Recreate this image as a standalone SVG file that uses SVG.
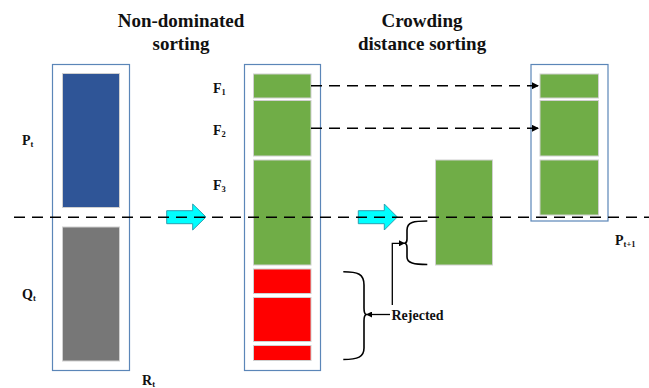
<svg xmlns="http://www.w3.org/2000/svg" width="649" height="388" viewBox="0 0 649 388">
  <defs>
    <style>
      .box { fill: #ffffff; stroke: #5b86b8; stroke-width: 1.2; }
      .seg { stroke: #d0d0d0; stroke-width: 1; }
      .blue { fill: #2f5597; }
      .gray { fill: #777777; }
      .green { fill: #70ad47; }
      .red { fill: #ff0000; }
      .title { font-family: "Liberation Serif", "Times New Roman", serif; font-weight: bold; font-size: 19px; fill: #111; text-anchor: middle; }
      .lbl { font-family: "Liberation Serif", "Times New Roman", serif; font-weight: bold; font-size: 14px; fill: #111; }
      .sub { font-size: 8.5px; }
      .dash { stroke: #000; stroke-width: 1.5; stroke-dasharray: 11 7; fill: none; }
      .line { stroke: #000; stroke-width: 1.3; fill: none; }
      .brace { stroke: #000; stroke-width: 1.6; fill: none; }
      .flow { fill: #00ffff; stroke: #2a9fb0; stroke-width: 1; }
    </style>
    <marker id="ah" viewBox="0 0 10 10" refX="10" refY="5" markerWidth="7" markerHeight="7" markerUnits="userSpaceOnUse" orient="auto">
      <path d="M0,0 L10,5 L0,10 z" fill="#000"/>
    </marker>
    <marker id="ahs" viewBox="0 0 10 10" refX="10" refY="5" markerWidth="6" markerHeight="6" markerUnits="userSpaceOnUse" orient="auto">
      <path d="M0,0 L10,5 L0,10 z" fill="#000"/>
    </marker>
  </defs>

  <!-- headings -->
  <text class="title" x="181" y="27">Non-dominated</text>
  <text class="title" x="181" y="50">sorting</text>
  <text class="title" x="422" y="27">Crowding</text>
  <text class="title" x="422" y="50">distance sorting</text>

  <!-- combined population R_t -->
  <g id="rt">
    <rect class="box" x="52.5" y="64.5" width="77" height="306"/>
    <rect class="blue seg" x="62.5" y="73.5" width="57" height="134"/>
    <rect class="gray seg" x="62.5" y="227" width="57" height="134"/>
    <text class="lbl" x="22" y="145">P<tspan class="sub" dy="2">t</tspan></text>
    <text class="lbl" x="22" y="299">Q<tspan class="sub" dy="2">t</tspan></text>
    <text class="lbl" x="142" y="385">R<tspan class="sub" dy="2">t</tspan></text>
  </g>

  <!-- fronts after non-dominated sorting -->
  <g id="fronts">
    <rect class="box" x="244.5" y="64.5" width="76" height="306"/>
    <rect class="green seg" x="253.5" y="74" width="57.5" height="24"/>
    <rect class="green seg" x="253.5" y="100.5" width="57.5" height="55.5"/>
    <rect class="green seg" x="253.5" y="160" width="57.5" height="105"/>
    <rect class="red seg" x="253.5" y="269" width="57.5" height="24.5"/>
    <rect class="red seg" x="253.5" y="297.5" width="57.5" height="44"/>
    <rect class="red seg" x="253.5" y="345.5" width="57.5" height="15"/>
    <text class="lbl" x="213" y="93">F<tspan class="sub" dy="2">1</tspan></text>
    <text class="lbl" x="213" y="135">F<tspan class="sub" dy="2">2</tspan></text>
    <text class="lbl" x="213" y="190">F<tspan class="sub" dy="2">3</tspan></text>
  </g>

  <!-- F3 sorted by crowding distance -->
  <g id="f3-sorted">
    <rect class="green seg" x="435.5" y="160" width="57" height="105"/>
  </g>

  <!-- new population P_t+1 -->
  <g id="pt1">
    <rect class="box" x="531" y="64.5" width="77" height="156.5"/>
    <rect class="green seg" x="540" y="74" width="58.5" height="24"/>
    <rect class="green seg" x="540" y="100.5" width="58.5" height="55.5"/>
    <rect class="green seg" x="540" y="160" width="58.5" height="55"/>
    <text class="lbl" x="615" y="245">P<tspan class="sub" dy="2">t+1</tspan></text>
  </g>

  <!-- flow arrows -->
  <g id="flow1">
    <path class="flow" d="M166.7,210.7 H192.7 V204 L206,217 L192.7,230 V223.7 H166.7 z"/>
  </g>
  <g id="flow2">
    <path class="flow" d="M358.3,210.7 H384.3 V204 L397.3,217 L384.3,230 V223.7 H358.3 z"/>
  </g>

  <!-- rejected label -->
  <g id="rejected">
    <text class="lbl" x="391.5" y="320">Rejected</text>
  </g>

  <!-- connectors -->
  <g id="connectors">
    <line class="dash" x1="14" y1="217.3" x2="649" y2="217.3"/>
    <line class="dash" x1="311" y1="85.7" x2="539" y2="85.7" marker-end="url(#ah)"/>
    <line class="dash" x1="311" y1="128.3" x2="539" y2="128.3" marker-end="url(#ah)"/>
    <!-- braces -->
    <path class="brace" d="M427.3,221 C414,221 407,222 407,230 V239 C407,242 406,243 405,243.3 C406,243.6 407,245 407,248 V257 C407,263 414,264.5 427.3,264.5"/>
    <path class="brace" d="M343.3,271.7 C358,271.7 364,274 364,285 V308 C364,312 365,314 366,314.5 C365,315 364,317 364,321 V348 C364,357 358,359.5 343.3,359.5"/>
    <line class="line" x1="390" y1="314.5" x2="366" y2="314.5" marker-end="url(#ahs)"/>
    <path class="line" d="M392.3,305 V243.3 H405" marker-end="url(#ahs)"/>
  </g>
</svg>
